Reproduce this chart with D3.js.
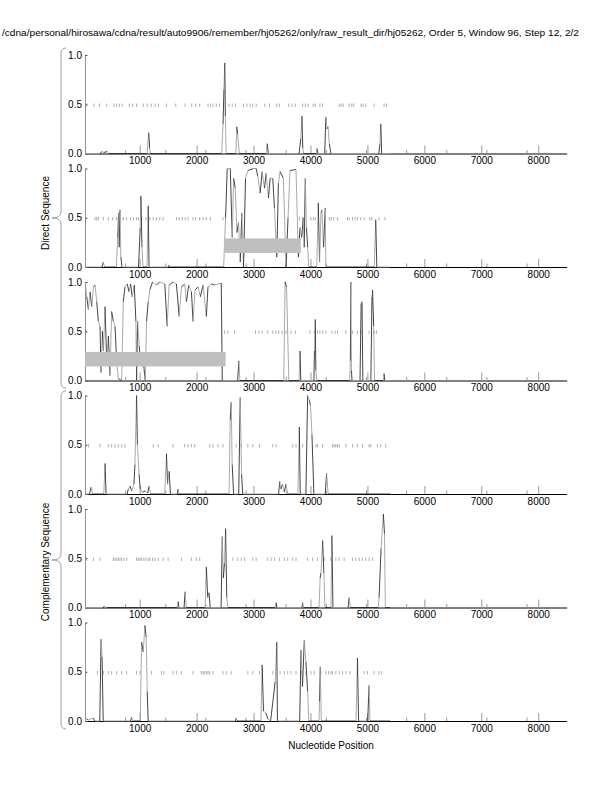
<!DOCTYPE html>
<html><head><meta charset="utf-8">
<script src="https://cdn.jsdelivr.net/npm/d3@7"></script>
<style>body{margin:0;background:#fff}svg{display:block}text{font-family:"Liberation Sans",Arial,Helvetica,sans-serif}</style>
</head><body>
<script>
const titleText = "/cdna/personal/hirosawa/cdna/result/auto9906/remember/hj05262/only/raw_result_dir/hj05262, Order 5, Window 96, Step 12, 2/2";
const xLabel = "Nucleotide Position";
const groupLabels = ["Direct Sequence", "Complementary Sequence"];
const xTickValues = [1000,2000,3000,4000,5000,6000,7000,8000];
const yTickValues = [0, 0.5, 1.0];

// curves: [position, value] key points
const curve1 = [[40,0],[300,0],[340,0.02],[370,0.01],[430,0.02],[460,0],[1130,0],[1160,0.21],[1175,0.05],[1190,0],[2440,0],[2465,0.3],[2480,0.65],[2495,0.92],[2505,0.38],[2520,0],[2690,0],[2705,0.27],[2720,0.2],[2750,0],[3220,0],[3240,0.1],[3260,0],[3800,0],[3830,0.15],[3850,0.38],[3865,0.05],[3880,0],[4100,0],[4115,0.05],[4130,0],[4250,0],[4270,0.37],[4290,0.25],[4310,0.27],[4330,0.1],[4360,0],[5200,0],[5220,0.1],[5235,0.3],[5250,0],[5400,0]];
const curve2 = [[40,0],[340,0],[362,0.05],[385,0],[590,0],[615,0.3],[630,0.55],[640,0.2],[654,0.58],[670,0.1],[690,0],[980,0],[1010,0.4],[1022,0.72],[1040,0.2],[1060,0],[1130,0],[1150,0.62],[1165,0],[1500,0],[1518,0.02],[1535,0],[2475,0],[2509,0.5],[2538,1.0],[2591,1.0],[2626,0.3],[2650,0.9],[2679,0.8],[2708,0.35],[2737,0.45],[2766,0.05],[2795,0.55],[2824,0.0],[2859,0.9],[2900,0.98],[3000,1.0],[3046,1.0],[3075,0.92],[3116,0.75],[3151,0.97],[3192,0.8],[3221,0.95],[3262,0.7],[3291,0.9],[3338,0.9],[3367,0.6],[3408,0.1],[3437,0.85],[3466,0.97],[3524,0.9],[3571,0.0],[3606,0.5],[3641,0.98],[3746,0.99],[3787,0.1],[3816,0.4],[3845,0.3],[3874,0.5],[3890,0.2],[3909,0.9],[3930,0.4],[3950,0.2],[3970,0],[4110,0],[4137,0.65],[4160,0.05],[4185,0.55],[4201,0.58],[4230,0.2],[4259,0.6],[4270,0],[5120,0],[5146,0.48],[5165,0],[5400,0]];
const curve3 = [[42,1.0],[71,0.85],[100,0.72],[129,0.9],[159,0.75],[188,0.95],[217,0.97],[246,0.8],[275,0.6],[304,0.55],[322,0.08],[345,0.5],[363,0.3],[392,0.75],[421,0.2],[450,0.45],[479,0.05],[508,0.7],[538,0.6],[567,0.55],[596,0.2],[625,0.02],[684,0.0],[713,0.8],[742,0.95],[783,0.98],[812,0.9],[841,0.98],[870,0.85],[905,0.97],[934,0.6],[946,0.0],[964,0.6],[993,0.35],[1022,0.15],[1063,0.2],[1098,0.0],[1121,0.6],[1150,0.8],[1179,0.92],[1226,1.0],[1296,0.97],[1354,1.0],[1442,0.98],[1483,0.55],[1518,0.97],[1588,1.0],[1646,0.98],[1693,0.65],[1734,0.95],[1792,0.98],[1821,0.8],[1862,0.97],[1909,0.9],[1938,0.6],[1973,0.92],[2025,0.95],[2066,0.85],[2113,0.97],[2171,0.65],[2200,0.95],[2259,0.98],[2317,0.97],[2433,0.99],[2451,0.0],[2720,0],[2743,0.2],[2760,0],[3530,0],[3555,1.0],[3580,0.95],[3620,0],[3800,0],[3816,0.3],[3830,0],[4060,0],[4070,0.3],[4084,0.62],[4095,0.1],[4110,0],[4690,0],[4700,0.2],[4709,1.0],[4720,0.1],[4730,0],[4870,0],[4890,0.78],[4905,0.8],[4920,0],[5060,0],[5080,0.85],[5090,0.92],[5110,0.55],[5125,0],[5280,0],[5292,0.07],[5305,0],[5400,0]];
const curve4 = [[40,0],[120,0],[147,0.07],[175,0],[370,0],[392,0.31],[410,0],[780,0],[800,0.05],[830,0.08],[860,0.03],[900,0.1],[917,0.3],[946,1.0],[960,0.5],[990,0.2],[1010,0.05],[1050,0.02],[1100,0.03],[1140,0.01],[1168,0.08],[1190,0],[1440,0],[1471,0.41],[1490,0.1],[1518,0.23],[1540,0],[1660,0],[1675,0.05],[1690,0],[2570,0],[2590,0.75],[2608,0.93],[2625,0.3],[2650,0],[2740,0],[2766,0.98],[2790,0.2],[2810,0],[3440,0],[3460,0.13],[3480,0.05],[3510,0.1],[3540,0.02],[3570,0.1],[3600,0],[3780,0],[3804,0.68],[3820,0],[3920,0],[3950,1.0],[3980,0.95],[4000,0.9],[4026,0.6],[4060,0],[4260,0],[4283,0.21],[4310,0],[5400,0]];
const curve5 = [[40,0],[350,0],[380,0.01],[420,0],[1660,0],[1675,0.06],[1690,0],[1780,0],[1798,0.16],[1820,0],[2150,0],[2171,0.41],[2195,0.1],[2218,0.15],[2240,0],[2430,0],[2451,0.72],[2470,0.3],[2490,0.45],[2509,0.8],[2530,0.1],[2550,0],[3380,0],[3396,0.05],[3410,0],[3850,0],[3863,0.05],[3880,0],[4150,0],[4170,0.3],[4184,0.35],[4213,0.68],[4235,0.35],[4255,0],[4360,0],[4376,0.73],[4395,0],[4660,0],[4679,0.1],[4700,0],[5190,0],[5205,0.1],[5240,0.6],[5280,0.95],[5300,0.75],[5315,0],[5400,0]];
const curve6 = [[40,0.01],[72,0.02],[100,0.01],[188,0.03],[210,0],[300,0],[322,0.83],[340,0.65],[360,0],[840,0],[858,0.04],[880,0],[1010,0],[1034,0.8],[1063,0.7],[1092,0.97],[1115,0.85],[1133,0.3],[1150,0],[2680,0],[2695,0.03],[2710,0],[3130,0],[3151,0.57],[3175,0.1],[3220,0.08],[3250,0.02],[3300,0],[3380,0.4],[3408,0.8],[3420,0],[3810,0],[3834,0.72],[3860,0.35],[3891,0.82],[3920,0.6],[3950,0.3],[3970,0],[4150,0],[4160,0.2],[4172,0.55],[4190,0],[4800,0],[4825,0.64],[4845,0],[5005,0],[5029,0.36],[5045,0],[5400,0]];

// short marks on the 0.5 line
const marks1 = [71,199,293,421,550,596,643,690,818,876,946,1063,1133,1203,1273,1331,1471,1634,1798,1914,1984,2054,2200,2241,2288,2346,2404,2568,2626,2684,2824,2883,2941,2988,3046,3198,3280,3408,3454,3618,3676,3734,3863,3909,3956,4050,4084,4166,4213,4504,4539,4574,4679,4726,4761,4889,4924,4971,5117,5292,5333];
const marks2 = [217,246,275,363,450,526,596,713,771,841,888,946,981,1034,1110,1179,1238,1296,1354,1413,1646,1693,1751,1798,1850,1938,1984,2054,2113,2171,2241,2463,3805,3863,4009,4049,4084,4329,4364,4411,4475,4650,4679,4738,4784,4825,4884,4942,5041,5076,5204,5309];
const marks3 = [2492,2550,2667,3035,3093,3151,3250,3338,3396,3443,3501,3571,3658,3734,3991,4067,4125,4166,4213,4271,4376,4434,4475,4621,4738,4825,4884,5029,5117,5158];
const marks4 = [100,304,450,508,567,625,684,742,1238,1325,1588,1792,1850,1909,1967,2229,2288,2375,2463,2696,2784,2900,2988,3104,3338,3396,3688,3746,3863,4096,4125,4213,4388,4417,4446,4475,4504,4621,4738,4825,4913,5029,5059,5175,5233,5321];
const marks5 = [71,188,304,538,567,596,625,654,684,725,771,946,975,1005,1034,1074,1109,1150,1179,1226,1267,1325,1413,1500,1734,1909,1996,2054,2638,2725,2784,2842,2988,3046,3250,3308,3367,3454,3542,3600,3688,3746,3950,4038,4125,4242,4359,4446,4504,4592,4738,4796,4854,4913,4971,5029,5088];
const marks6 = [258,363,450,508,596,684,771,946,1005,1209,1384,1424,1588,1646,1734,1938,2083,2113,2142,2171,2200,2229,2288,2463,2521,2608,2900,2988,3104,3338,3466,3542,3600,3658,3746,3834,3921,4008,4067,4183,4271,4318,4359,4388,4446,4504,4563,4621,4691,4825,4942,5000,5117,5204,5251];

// shaded ranges [start, end] per panel (null = none)
const bars = [null, [2480, 3830], [42, 2510], null, null, null];
const barLow = 0.143, barHigh = 0.29;
const markLevel = 0.49;

const curves = [curve1, curve2, curve3, curve4, curve5, curve6];
const marks = [marks1, marks2, marks3, marks4, marks5, marks6];

const W = 612, H = 792;
const svg = d3.select("body").append("svg").attr("width", W).attr("height", H);

svg.append("text").attr("x", 2).attr("y", 35.5).attr("font-size", 9.3)
  .attr("textLength", 577).attr("lengthAdjust", "spacingAndGlyphs").text(titleText);

const x = d3.scaleLinear().domain([40, 8500]).range([85, 566.7]);
const minorTicks = d3.range(1, 12).map(k => 40 + k * (8500 - 40) / 12);
const tickFont = '"Liberation Sans",Arial,sans-serif';

curves.forEach((data, i) => {
  const top = 55 + i * 113.5, h = 98.5;
  const y = d3.scaleLinear().domain([0, 1]).range([top + h, top]);
  const g = svg.append("g");

  const ax = g.append("g").attr("transform", `translate(0,${top + h})`)
    .call(d3.axisBottom(x).tickValues(xTickValues).tickSizeInner(-8).tickSizeOuter(0).tickPadding(3.5).tickFormat(d3.format("d")));
  ax.selectAll(".tick line").attr("stroke", "#999");
  ax.select(".domain").attr("stroke", "#000").attr("stroke-width", 1);
  ax.selectAll("text").attr("font-size", 10).attr("fill", "#000").style("font-family", tickFont);
  const axm = g.append("g").attr("transform", `translate(0,${top + h})`)
    .call(d3.axisBottom(x).tickValues(minorTicks).tickSizeInner(-3.5).tickSizeOuter(0).tickFormat(""));
  axm.selectAll(".tick line").attr("stroke", "#999");
  axm.select(".domain").remove();

  const ay = g.append("g").attr("transform", `translate(${x.range()[0]},0)`)
    .call(d3.axisLeft(y).tickValues(yTickValues).tickSizeInner(-2.5).tickSizeOuter(0).tickPadding(3).tickFormat(d3.format(".1f")));
  ay.select(".domain").attr("stroke", "#777").attr("stroke-width", 0.8);
  ay.selectAll(".tick line").attr("stroke", "#555");
  ay.selectAll("text").attr("font-size", 10).attr("fill", "#000").style("font-family", tickFont);

  g.append("g").selectAll("line").data(marks[i]).join("line")
    .attr("x1", d => x(d)).attr("x2", d => x(d))
    .attr("y1", y(markLevel) - 1.7).attr("y2", y(markLevel) + 1.7)
    .attr("stroke", "#999").attr("stroke-width", 0.8);

  const segs = d3.pairs(data);
  g.append("g").selectAll("line").data(segs).join("line")
    .attr("x1", d => x(d[0][0])).attr("y1", d => y(d[0][1]))
    .attr("x2", d => x(d[1][0])).attr("y2", d => y(d[1][1]))
    .attr("stroke", (d, k) => k % 2 ? "#222" : "#999")
    .attr("stroke-width", 0.85);

  if (bars[i]) {
    g.append("rect").attr("x", x(bars[i][0])).attr("width", x(bars[i][1]) - x(bars[i][0]))
      .attr("y", y(barHigh)).attr("height", y(barLow) - y(barHigh)).attr("fill", "#bfbfbf");
  }
});

function brace(y0, y1, tip, xr, xl) {
  const xm = xr - 5;
  return `M${xr},${y0} Q${xm},${y0} ${xm},${y0 + 6} L${xm},${tip - 6} Q${xm},${tip} ${xl},${tip} Q${xm},${tip} ${xm},${tip + 6} L${xm},${y1 - 6} Q${xm},${y1} ${xr},${y1}`;
}
svg.append("path").attr("d", brace(48, 388, 218, 66, 52)).attr("fill", "none").attr("stroke", "#888").attr("stroke-width", 0.8);
svg.append("path").attr("d", brace(391, 729, 560, 66, 52)).attr("fill", "none").attr("stroke", "#888").attr("stroke-width", 0.8);

svg.append("text").attr("transform", "translate(49,213) rotate(-90)").attr("text-anchor", "middle")
  .attr("font-size", 10).text(groupLabels[0]);
svg.append("text").attr("transform", "translate(49,562) rotate(-90)").attr("text-anchor", "middle")
  .attr("font-size", 10).text(groupLabels[1]);

svg.append("text").attr("x", 331).attr("y", 749).attr("text-anchor", "middle").attr("font-size", 10).text(xLabel);
</script>
</body></html>
